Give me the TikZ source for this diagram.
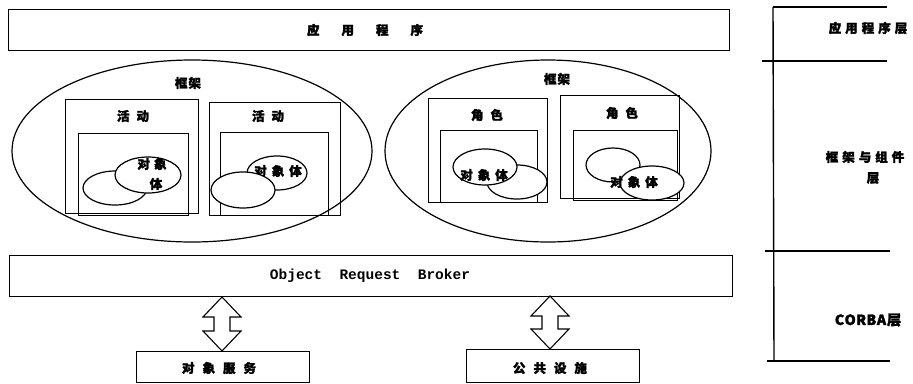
\documentclass[tikz,border=0pt]{standalone}
\usepackage{fontspec}
\newfontfamily\cjk[FakeBold=2]{Noto Sans CJK SC}
\newfontfamily\monob{Liberation Mono}
\usetikzlibrary{shapes.geometric}
\newcommand\dblarr[3]{%
  \draw[fill=white,line width=1.1pt,line join=miter] (#1,#2) -- (#1+19,#2+20) -- (#1+8,#2+20) -- (#1+8,#3-20) -- (#1+19,#3-20)
   -- (#1,#3) -- (#1-19,#3-20) -- (#1-8,#3-20) -- (#1-8,#2+20) -- (#1-19,#2+20) -- cycle;}
\begin{document}
\begin{tikzpicture}[x=1pt,y=-1pt,line width=1.2pt,
  lbl/.style={font=\cjk\bfseries\fontsize{12.5}{14}\selectfont, inner sep=0},
  sbox/.style={draw, inner sep=0, anchor=north west},
  oval/.style={draw, ellipse, fill=white, inner sep=0},
  bigoval/.style={draw, ellipse, inner sep=0},
  layer/.style={line width=1.4pt}]
\useasboundingbox (0,0) rectangle (913,383);
% application bar
\node[sbox, minimum width=721, minimum height=41] (app) at (8,9) {};
\node[lbl] (apptxt) at (365,30) {应\hspace{22pt}用\hspace{22pt}程\hspace{22pt}序};
% big ellipses
\node[bigoval, minimum width=360, minimum height=182] (fw1) at (192,151) {};
\node[bigoval, minimum width=326, minimum height=182] (fw2) at (548,151) {};
\node[lbl] (fw1txt) at (188,83) {框\hspace{1pt}架};
\node[lbl] (fw2txt) at (557,79) {框\hspace{1pt}架};
% activity boxes
\node[sbox, minimum width=133, minimum height=114] (act1) at (65,99) {};
\node[sbox, minimum width=110, minimum height=82] (act1in) at (78,133) {};
\node[lbl] (act1txt) at (133,116) {活\hspace{7pt}动};
\node[sbox, minimum width=131, minimum height=113] (act2) at (209,102) {};
\node[sbox, minimum width=108, minimum height=83] (act2in) at (220,132) {};
\node[lbl] (act2txt) at (268,116) {活\hspace{7pt}动};
% role boxes
\node[sbox, minimum width=119, minimum height=104] (role1) at (428,98) {};
\node[sbox, minimum width=97, minimum height=72] (role1in) at (440,130) {};
\node[lbl] (role1txt) at (487,115) {角\hspace{7pt}色};
\node[sbox, minimum width=119, minimum height=103] (role2) at (560,95) {};
\node[sbox, minimum width=104, minimum height=70] (role2in) at (573,130) {};
\node[lbl] (role2txt) at (622,113) {角\hspace{7pt}色};
% object ellipses, box 1
\node[oval, minimum width=64, minimum height=34] (o1a) at (115,188) {};
\node[oval, minimum width=66, minimum height=36] (o1b) at (148,175) {};
\node[lbl] (o1t1) at (152,164) {对\hspace{4pt}象};
\node[lbl] (o1t2) at (156,184) {体};
% box 2
\node[oval, minimum width=60, minimum height=34] (o2a) at (277,173) {};
\node[lbl] (o2t) at (278,171) {对\hspace{5pt}象\hspace{5pt}体};
\node[oval, minimum width=64, minimum height=36] (o2b) at (243,190) {};
% box 3
\node[oval, minimum width=60, minimum height=34] (o3b) at (517,182) {};
\node[oval, minimum width=64, minimum height=36] (o3a) at (485,167) {};
\node[lbl] (o3t) at (484,175) {对\hspace{5pt}象\hspace{5pt}体};
% box 4
\node[oval, minimum width=54, minimum height=34] (o4a) at (613,165) {};
\node[oval, minimum width=64, minimum height=34] (o4b) at (652,183) {};
\node[lbl] (o4t) at (634,182) {对\hspace{5pt}象\hspace{5pt}体};
% ORB bar
\node[sbox, minimum width=723, minimum height=41] (orb) at (9,255) {};
\node[inner sep=0, font=\monob\bfseries\fontsize{14.5}{16}\selectfont] (orbtxt) at (370,276) {Object\ \ Request\ \ Broker};
% bottom boxes
\node[sbox, minimum width=173, minimum height=31] (svc) at (136,351) {};
\node[lbl] (svctxt) at (219,368) {对\hspace{8pt}象\hspace{8pt}服\hspace{8pt}务};
\node[sbox, minimum width=173, minimum height=33] (fac) at (466,349) {};
\node[lbl] (factxt) at (550,368) {公\hspace{8pt}共\hspace{8pt}设\hspace{8pt}施};
% double arrows
\dblarr{222}{297}{351}
\dblarr{550}{296}{349}
% layer column
\coordinate (l0a) at (773,7);   \coordinate (l0b) at (887,7);
\coordinate (l1a) at (762,61);  \coordinate (l1b) at (887,61);
\coordinate (l2a) at (765,251); \coordinate (l2b) at (890,251);
\coordinate (l3a) at (767,361); \coordinate (l3b) at (890,361);
\coordinate (vtop) at (773,7);  \coordinate (vbot) at (774,361);
\draw[layer] (vtop) -- (vbot);
\draw[layer] (l0a) -- (l0b);
\draw[layer] (l1a) -- (l1b);
\draw[layer] (l2a) -- (l2b);
\draw[layer] (l3a) -- (l3b);
\node[lbl] (lay1) at (868,28) {应\hspace{4pt}用\hspace{4pt}程\hspace{4pt}序\hspace{4pt}层};
\node[lbl] (lay2) at (865,157) {框\hspace{4pt}架\hspace{4pt}与\hspace{4pt}组\hspace{4pt}件};
\node[lbl] (lay2b) at (873,178) {层};
\node[lbl, font=\cjk\bfseries\fontsize{14}{16}\selectfont] (lay3) at (868,320) {C\kern0.5pt O\kern0.5pt R\kern0.5pt B\kern0.5pt A\hspace{1pt}层};
\end{tikzpicture}
\end{document}
